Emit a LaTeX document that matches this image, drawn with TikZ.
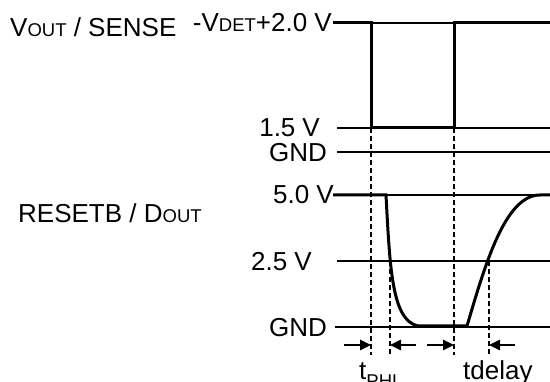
\documentclass[tikz,border=0pt]{standalone}
\usepackage{fontspec}
\setmainfont{Liberation Sans}
\usetikzlibrary{arrows.meta}

\newcommand{\labelfont}{\fontsize{26}{30}\selectfont}
\newcommand{\subcap}[1]{{\fontsize{18.5}{20}\selectfont #1}}

\begin{document}
\begin{tikzpicture}[x=1pt,y=-1pt,>={Triangle[length=11pt,width=10pt]},
  level/.style={line width=1.2pt},
  signal/.style={line width=3pt},
  guide/.style={line width=1.3pt, dash pattern=on 5pt off 3pt},
  timing/.style={->, line width=2.5pt},
  lbl/.style={font=\labelfont, inner sep=0pt}]

  \useasboundingbox (0,0) rectangle (550,382);

%%%%%%%%%%%%%%%%%%%%%%%%%%%%%%%%%%%%%%%%%%
  % Upper trace
  \begin{scope}
    % Labels
    \node[lbl, anchor=base west] (vout) at (10,37) {V\subcap{OUT} / SENSE};
    \node[lbl, anchor=base east] (vdet) at (332,32) {-V\subcap{DET}+2.0 V};
    \node[lbl, anchor=base east] (vlow) at (320,137) {1.5\hspace{7pt}V};
    \node[lbl, anchor=base east] (gndtop) at (327,162) {GND};

    % Levels
    \draw[level] (337,23) -- (550,23);
    \draw[level] (337,128) -- (550,128);
    \draw[level] (337,152) -- (550,152);

    % Pulse
    \draw[signal] (333,23) -- (371,23) -- (371,128) -- (454,128) -- (454,23) -- (550,23);
  \end{scope}

%%%%%%%%%%%%%%%%%%%%%%%%%%%%%%%%%%%%%%%%%%
  % Lower trace
  \begin{scope}
    % Labels
    \node[lbl, anchor=base west] (resetb) at (18,223) {RESETB / D\subcap{OUT}};
    \node[lbl, anchor=base east] (vhigh) at (334,204) {5.0 V};
    \node[lbl, anchor=base east] (vhalf) at (312,271) {2.5 V};
    \node[lbl, anchor=base east] (gndbot) at (327,336.5) {GND};

    % Levels
    \draw[level] (337,195) -- (550,195);
    \draw[level] (337,261) -- (550,261);
    \draw[level] (335,327) -- (550,327);

    % Output
    \draw[signal] (333,195) -- (386,195)
      .. controls (390,270) and (392,320) .. (418,326) -- (467,326)
      .. controls (485,265) and (505,195) .. (540,195) -- (550,195);
  \end{scope}

%%%%%%%%%%%%%%%%%%%%%%%%%%%%%%%%%%%%%%%%%%
  % Timing marks
  \coordinate (fall) at (371,345);
  \coordinate (half) at (390,345);
  \coordinate (rise) at (454,345);
  \coordinate (back) at (489,345);
  \coordinate (fallin) at (344,345);
  \coordinate (halfin) at (416,345);
  \coordinate (risein) at (427,345);
  \coordinate (backin) at (515,345);

  \draw[guide] (371,128) -- (371,355);
  \draw[guide] (454,128) -- (454,355);
  \draw[guide] (390,261) -- (390,355);
  \draw[guide] (489,261) -- (489,355);

  \draw[timing] (fallin) -- (fall);
  \draw[timing] (halfin) -- (half);
  \draw[timing] (risein) -- (rise);
  \draw[timing] (backin) -- (back);

  \node[lbl, anchor=base west] (tphl) at (359,380) {t\raisebox{-8pt}{\subcap{PHL}}};
  \node[lbl, anchor=base west] (tdelay) at (463,380) {tdelay};

\end{tikzpicture}
\end{document}
